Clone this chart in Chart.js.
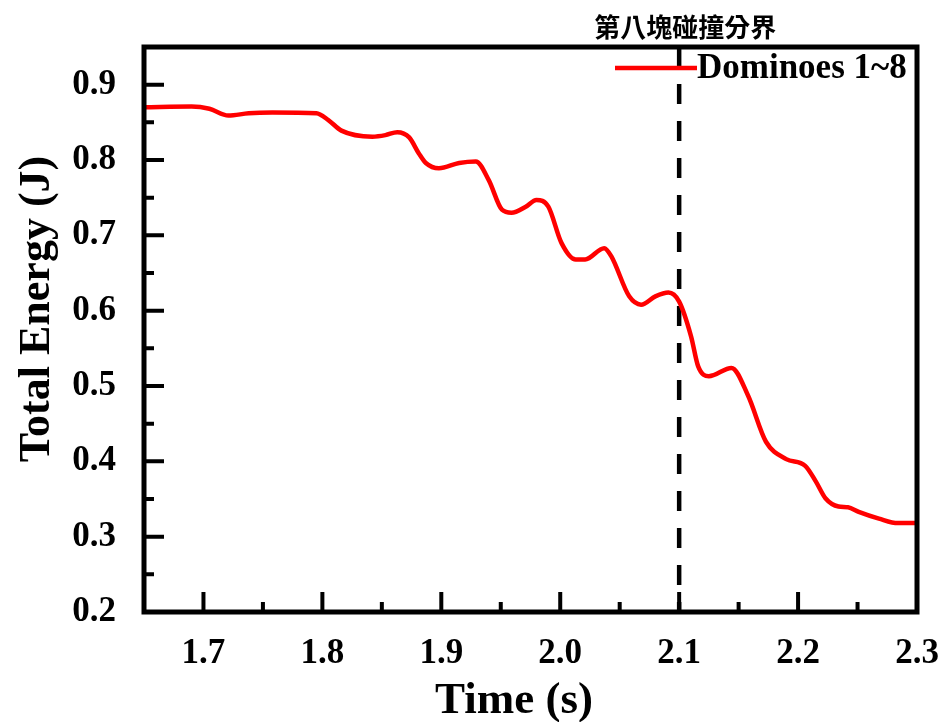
<!DOCTYPE html>
<html>
<head>
<meta charset="utf-8">
<script src="https://cdn.jsdelivr.net/npm/chart.js@4.4.1/dist/chart.umd.min.js"></script>
<style>
  html, body { margin: 0; padding: 0; background: #fff; }
  canvas { display: block; }
</style>
</head>
<body>
<canvas id="graficoEnergia" width="941" height="722"></canvas>
<script>
// dados
const tempos = [1.650, 1.690, 1.705, 1.721, 1.738, 1.758, 1.795, 1.805, 1.816, 1.842, 1.853, 1.863, 1.873,
  1.881, 1.887, 1.898, 1.915, 1.929, 1.940, 1.951, 1.959, 1.971, 1.980, 1.990, 2.001, 2.013, 2.021,
  2.037, 2.043, 2.058, 2.068, 2.080, 2.091, 2.100, 2.110, 2.116, 2.125, 2.144, 2.158, 2.173, 2.190,
  2.206, 2.215, 2.223, 2.234, 2.242, 2.251, 2.268, 2.284, 2.299];
const energia = [0.870, 0.871, 0.868, 0.859, 0.862, 0.863, 0.862, 0.853, 0.839, 0.831, 0.833, 0.837, 0.830,
  0.809, 0.796, 0.789, 0.796, 0.798, 0.773, 0.734, 0.730, 0.738, 0.747, 0.738, 0.690, 0.668, 0.668,
  0.683, 0.672, 0.619, 0.608, 0.619, 0.624, 0.612, 0.566, 0.526, 0.513, 0.524, 0.487, 0.426, 0.403,
  0.394, 0.373, 0.351, 0.340, 0.339, 0.333, 0.324, 0.318, 0.318];
const xTicks = [1.7, 1.8, 1.9, 2.0, 2.1, 2.2, 2.3];
const yTicks = [0.2, 0.3, 0.4, 0.5, 0.6, 0.7, 0.8, 0.9];
const xMenores = [1.75, 1.85, 1.95, 2.05, 2.15, 2.25];
const yMenores = [0.25, 0.35, 0.45, 0.55, 0.65, 0.75, 0.85];
const limite = 2.1;
const nomeSerie = "Dominoes 1~8";
const rotuloLimite = "第八塊碰撞分界";
const tituloX = "Time (s)";
const tituloY = "Total Energy (J)";

const fonte = "'Liberation Serif', 'Times New Roman', serif";

// moldura + ticks para dentro + legenda + textos
const moldura = {
  id: "moldura",
  afterDraw(chart) {
    const { ctx, chartArea: a, scales } = chart;
    const sx = scales.x, sy = scales.y;
    ctx.save();
    ctx.strokeStyle = "#000";
    ctx.lineWidth = 5;
    ctx.lineCap = "butt";
    ctx.strokeRect(a.left, a.top, a.right - a.left, a.bottom - a.top);
    ctx.lineWidth = 4;
    ctx.beginPath();
    xTicks.forEach(v => { const p = sx.getPixelForValue(v); ctx.moveTo(p, a.bottom); ctx.lineTo(p, a.bottom - 20); });
    xMenores.forEach(v => { const p = sx.getPixelForValue(v); ctx.moveTo(p, a.bottom); ctx.lineTo(p, a.bottom - 10); });
    yTicks.forEach(v => { const p = sy.getPixelForValue(v); ctx.moveTo(a.left, p); ctx.lineTo(a.left + 20, p); });
    yMenores.forEach(v => { const p = sy.getPixelForValue(v); ctx.moveTo(a.left, p); ctx.lineTo(a.left + 10, p); });
    ctx.stroke();

    // rótulo do limite
    ctx.fillStyle = "#000";
    ctx.font = "bold 26px 'Noto Sans CJK TC'";
    ctx.textAlign = "center";
    ctx.textBaseline = "middle";
    ctx.fillText(rotuloLimite, sx.getPixelForValue(limite) + 6, 27);

    // títulos dos eixos
    ctx.font = "bold 45px " + fonte;
    ctx.fillText(tituloX, 514, 701);
    ctx.save();
    ctx.translate(38, 309);
    ctx.rotate(-Math.PI / 2);
    ctx.font = "bold 44px " + fonte;
    ctx.fillText(tituloY, 0, 0);
    ctx.restore();

    // legenda
    const ds = chart.data.datasets[0];
    ctx.strokeStyle = ds.borderColor;
    ctx.lineWidth = ds.borderWidth;
    ctx.beginPath();
    ctx.moveTo(615, 68);
    ctx.lineTo(697, 68);
    ctx.stroke();
    ctx.font = "bold 35px " + fonte;
    ctx.textAlign = "left";
    ctx.fillText(ds.label, 697, 69);
    ctx.restore();
  }
};

const pontos = tempos.map((t, i) => ({ x: t, y: energia[i] }));

new Chart(document.getElementById("graficoEnergia"), {
  type: "line",
  data: {
    datasets: [
      {
        label: nomeSerie,
        data: pontos,
        borderColor: "#ff0000",
        backgroundColor: "#ff0000",
        borderWidth: 4.5,
        pointRadius: 0,
        cubicInterpolationMode: "monotone",
      },
      {
        label: "limite",
        data: [{ x: limite, y: 0.95 }, { x: limite, y: 0.2 }],
        borderColor: "#000",
        borderWidth: 4.5,
        borderDash: [20, 17],
        pointRadius: 0,
      },
    ],
  },
  options: {
    responsive: false,
    animation: false,
    devicePixelRatio: 1,
    layout: { padding: { top: 47, right: 24, left: 0, bottom: 0 } },
    scales: {
      x: {
        type: "linear",
        min: 1.65,
        max: 2.3,
        afterBuildTicks: s => { s.ticks = xTicks.map(v => ({ value: v })); },
        afterFit: s => { s.height = 722 - 612; s.paddingLeft = 0; s.paddingRight = 0; },
        grid: { display: false },
        border: { display: false },
        ticks: {
          padding: 13,
          color: "#000",
          font: { family: fonte, size: 35, weight: "bold" },
          callback: v => v.toFixed(1),
        },
        title: { display: false },
      },
      y: {
        min: 0.2,
        max: 0.95,
        afterBuildTicks: s => { s.ticks = yTicks.map(v => ({ value: v })); },
        afterFit: s => { s.width = 144; s.paddingTop = 0; s.paddingBottom = 0; },
        grid: { display: false },
        border: { display: false },
        ticks: {
          padding: 20,
          color: "#000",
          font: { family: fonte, size: 35, weight: "bold" },
          callback: v => v.toFixed(1),
        },
        title: { display: false },
      },
    },
    plugins: {
      legend: { display: false },
      tooltip: { enabled: false },
    },
  },
  plugins: [moldura],
});
</script>
</body>
</html>
